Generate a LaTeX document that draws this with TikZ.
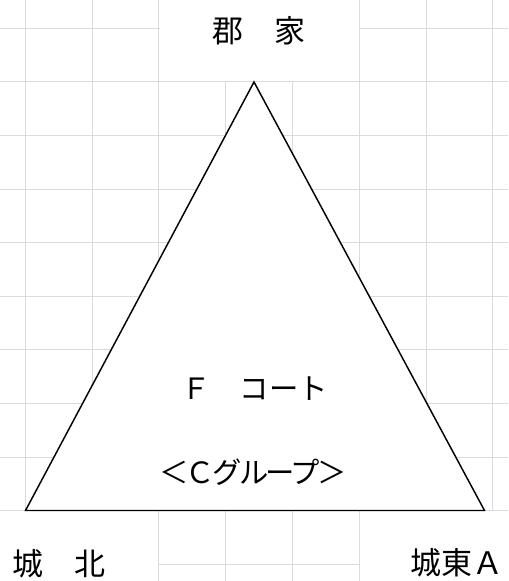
\documentclass[tikz,border=0pt]{standalone}
\usepackage{fontspec}
\newfontfamily\jpfont{Noto Sans CJK JP}
\newfontfamily\jptight[LetterSpace=-9]{Noto Sans CJK JP}
\usetikzlibrary{positioning,calc}
\definecolor{gridgray}{RGB}{218,218,225}
\tikzset{
  gridline/.style={draw=gridgray,line width=0.8pt},
  placelabel/.style={inner sep=0pt,font=\jpfont\fontsize{23.25pt}{28pt}\selectfont},
  courtlabel/.style={inner sep=0pt,font=\jpfont\fontsize{22pt}{26pt}\selectfont},
  grouplabel/.style={inner sep=0pt,font=\jptight\fontsize{22pt}{26pt}\selectfont}
}

\begin{document}
\begin{tikzpicture}[x=0.75pt,y=-0.75pt]
    \useasboundingbox (0,0) rectangle (508,581);
    % 背景の方眼
    \foreach \i in {0,...,7}
        \draw[gridline] ({25.3+66.8*\i},0) -- ({25.3+66.8*\i},581);
    \foreach \j in {0,...,10}
        \draw[gridline] (0,{28.3+53.6*\j}) -- (508,{28.3+53.6*\j});

    % ラベルの白い枠
    \fill[white] (159.7,0) rectangle (358.6,81.2);
    \fill[white] (0,511.4) rectangle (158.3,581);
    \fill[white] (360,511.4) rectangle (508,581);

    % 三角形
    \coordinate (top) at (254,82);
    \coordinate (left) at (25.5,510.5);
    \coordinate (right) at (484.5,510.5);
    \draw[fill=white,line width=1.1pt,line join=miter] (top) -- (left) -- (right) -- cycle;

    % 地名
    \node[placelabel] (gunke) at (258.5,30.5) {郡　家};
    \node[placelabel] (johoku) at (59,564) {城　北};
    \node[placelabel] (joto) at (457,563) {城東Ａ};

    % コートとグループ
    \node[courtlabel] (court) at (254.5,389) {Ｆ　コート};
    \node[grouplabel] (group) at (253,472) {＜Ｃグループ＞};
\end{tikzpicture}
\end{document}
